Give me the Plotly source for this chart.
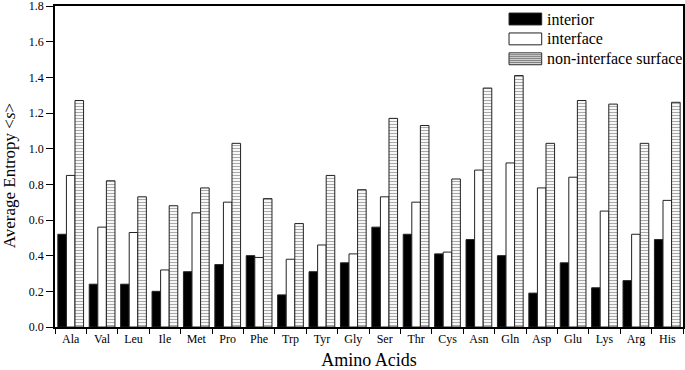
import plotly.graph_objects as go

amino_acids = ["Ala", "Val", "Leu", "Ile", "Met", "Pro", "Phe", "Trp", "Tyr", "Gly",
               "Ser", "Thr", "Cys", "Asn", "Gln", "Asp", "Glu", "Lys", "Arg", "His"]
interior = [0.52, 0.24, 0.24, 0.20, 0.31, 0.35, 0.40, 0.18, 0.31, 0.36,
            0.56, 0.52, 0.41, 0.49, 0.40, 0.19, 0.36, 0.22, 0.26, 0.49]
interface = [0.85, 0.56, 0.53, 0.32, 0.64, 0.70, 0.39, 0.38, 0.46, 0.41,
             0.73, 0.70, 0.42, 0.88, 0.92, 0.78, 0.84, 0.65, 0.52, 0.71]
non_interface = [1.27, 0.82, 0.73, 0.68, 0.78, 1.03, 0.72, 0.58, 0.85, 0.77,
                 1.17, 1.13, 0.83, 1.34, 1.41, 1.03, 1.27, 1.25, 1.03, 1.26]
series_names = ["interior", "interface", "non-interface surface"]
y_ticks = [0.0, 0.2, 0.4, 0.6, 0.8, 1.0, 1.2, 1.4, 1.6, 1.8]

FONT = "Liberation Serif"
line = dict(color="#222222", width=1)

fig = go.Figure()
fig.add_trace(go.Bar(x=amino_acids, y=interior, name=series_names[0],
                     marker=dict(color="black", line=line)))
fig.add_trace(go.Bar(x=amino_acids, y=interface, name=series_names[1],
                     marker=dict(color="white", line=line)))
fig.add_trace(go.Bar(x=amino_acids, y=non_interface, name=series_names[2],
                     marker=dict(color="white", line=line,
                                 pattern=dict(shape="-", fgcolor="#555555", bgcolor="white",
                                              size=3, solidity=0.4))))

# custom legend with wide swatches
x0, x1 = 0.723, 0.775
rows = [(0.978, 0.941), (0.916, 0.879), (0.854, 0.817)]
fills = ["black", "white", "white"]
for i, ((ya, yb), fc) in enumerate(zip(rows, fills)):
    fig.add_shape(type="rect", xref="paper", yref="paper", x0=x0, x1=x1, y0=yb, y1=ya,
                  fillcolor=fc, line=dict(color="#222222", width=1))
    if i == 2:
        n = 6
        for k in range(1, n):
            yy = yb + (ya - yb) * k / n
            fig.add_shape(type="line", xref="paper", yref="paper", x0=x0, x1=x1, y0=yy, y1=yy,
                          line=dict(color="#555555", width=1))
    fig.add_annotation(xref="paper", yref="paper", x=x1 + 0.006, y=(ya + yb) / 2,
                       text=series_names[i], showarrow=False, xanchor="left", yanchor="middle",
                       font=dict(family=FONT, size=16, color="black"))

# y-axis title placed as annotation to match the reference position
fig.add_annotation(xref="paper", yref="paper", x=-0.073, y=0.47, textangle=-90,
                   text="Average Entropy &lt;<i>s</i>&gt;", showarrow=False,
                   xanchor="center", yanchor="middle",
                   font=dict(family=FONT, size=17, color="black"))

fig.update_layout(
    width=685, height=370,
    margin=dict(l=55, r=2, t=6, b=43, autoexpand=False),
    paper_bgcolor="white", plot_bgcolor="white",
    barmode="group", bargap=0.18, bargroupgap=0,
    showlegend=False,
    font=dict(family=FONT, color="black"),
)
fig.update_xaxes(
    title=dict(text="Amino Acids", font=dict(family=FONT, size=18), standoff=8),
    range=[-0.5, len(amino_acids) - 0.5], automargin=False,
    showline=True, linecolor="black", linewidth=1.5, mirror=True,
    ticks="outside", tickson="boundaries", ticklen=5, tickcolor="black",
    tickfont=dict(family=FONT, size=12), showgrid=False,
)
fig.update_yaxes(
    range=[0, 1.8001], tickvals=y_ticks, tickformat=".1f", automargin=False,
    ticklabeloverflow="allow",
    showline=True, linecolor="black", linewidth=1.5, mirror=True,
    ticks="outside", ticklen=7, tickcolor="black",
    tickfont=dict(family=FONT, size=12), showgrid=False, zeroline=False,
)

fig.write_html("out.html", config={"displayModeBar": False},
               post_script="document.body.style.margin='0';document.body.style.padding='0';")
